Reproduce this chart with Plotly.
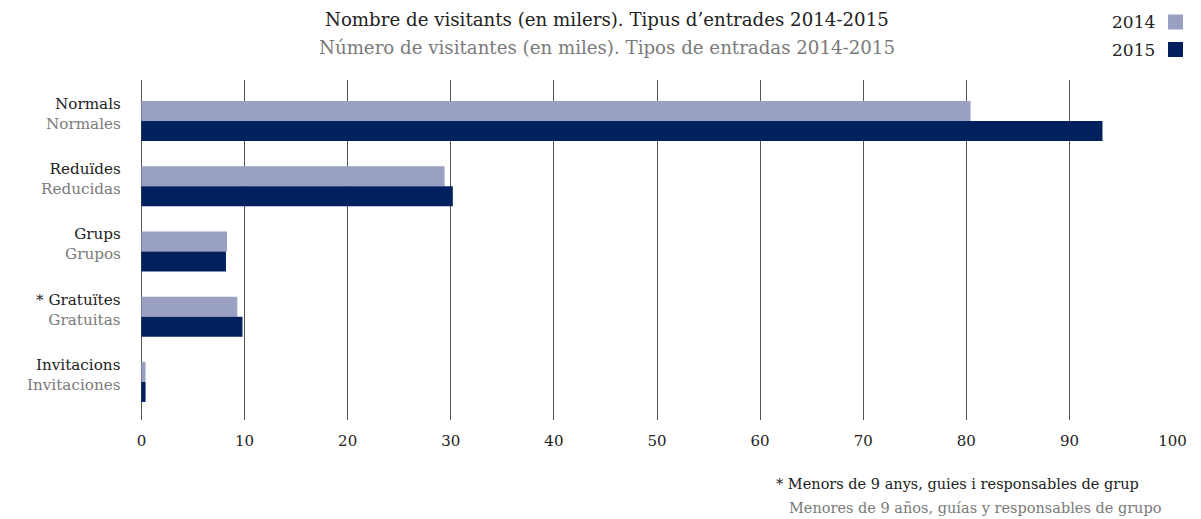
import plotly.graph_objects as go

categories_ca = ["Normals", "Reduïdes", "Grups", "* Gratuïtes", "Invitacions"]
categories_es = ["Normales", "Reducidas", "Grupos", "Gratuitas", "Invitaciones"]
values_2014 = [80.4, 29.4, 8.3, 9.3, 0.4]
values_2015 = [93.2, 30.2, 8.2, 9.8, 0.4]
x_ticks = [0, 10, 20, 30, 40, 50, 60, 70, 80, 90, 100]
series_names = ["2014", "2015"]

FONT = "DejaVu Serif"
DARK = "#222222"
GRAY = "#7a7a7a"
C2014 = "#9aa0c2"
C2015 = "#00215e"

# page body has an 8px margin; figure sized so the plot lands where the reference has it
W, H = 1193, 511
ML, MT, PW, PH = 133, 72, 1032, 340
MR, MB = W - ML - PW, H - MT - PH
OX, OY = 8, 8  # page offset


def px(xp):
    return (xp - OX - ML) / PW


def py(yp):
    return 1 - (yp - OY - MT) / PH


idx = list(range(len(categories_ca)))

fig = go.Figure()
fig.add_trace(go.Bar(y=idx, x=values_2014, orientation="h", name=series_names[0],
                     marker=dict(color=C2014, line=dict(width=0)), offsetgroup="a"))
fig.add_trace(go.Bar(y=idx, x=values_2015, orientation="h", name=series_names[1],
                     marker=dict(color=C2015, line=dict(width=0)), offsetgroup="b"))

fig.update_layout(
    width=W, height=H,
    margin=dict(l=ML, r=MR, t=MT, b=MB),
    paper_bgcolor="white", plot_bgcolor="white",
    font=dict(family=FONT, size=15, color=DARK),
    barmode="group", bargap=0.387, bargroupgap=0,
    showlegend=False,
    xaxis=dict(range=[-0.04, 100.04], tickvals=x_ticks, showgrid=True, gridcolor="#555555",
               gridwidth=1, zeroline=True, zerolinecolor="#555555", zerolinewidth=1,
               showline=False, ticks="", layer="below traces",
               ticklabelstandoff=10, tickfont=dict(size=15, color=DARK, family=FONT)),
    yaxis=dict(range=[4.583, -0.628], tickvals=idx, showticklabels=False, showgrid=False,
               zeroline=False, showline=False, ticks=""),
)

# Category labels (Catalan / Spanish)
for i, (a, b) in enumerate(zip(categories_ca, categories_es)):
    fig.add_annotation(xref="paper", yref="y", x=px(123), y=i, xanchor="right", yanchor="middle",
                       yshift=7, align="right", showarrow=False,
                       text=f"<span style='color:{DARK}'>{a}</span><br><span style='color:{GRAY}'>{b}</span>",
                       font=dict(size=15.2, family=FONT))

# Title (two lines)
fig.add_annotation(xref="paper", yref="paper", x=px(607), y=py(20), xanchor="center", yanchor="middle",
                   text="Nombre de visitants (en milers). Tipus d’entrades 2014-2015",
                   showarrow=False, font=dict(size=18.2, color=DARK, family=FONT))
fig.add_annotation(xref="paper", yref="paper", x=px(607), y=py(48), xanchor="center", yanchor="middle",
                   text="Número de visitantes (en miles). Tipos de entradas 2014-2015",
                   showarrow=False, font=dict(size=18.2, color=GRAY, family=FONT))

# Manual legend (text left of square)
for i, (name, col) in enumerate(zip(series_names, [C2014, C2015])):
    ycen = 22 + i * 27.5
    fig.add_annotation(xref="paper", yref="paper", x=px(1157), y=py(ycen),
                       xanchor="right", yanchor="middle", text=name, showarrow=False,
                       font=dict(size=17, color=DARK, family=FONT))
    fig.add_shape(type="rect", xref="paper", yref="paper",
                  x0=px(1168), x1=px(1183), y0=py(ycen + 7.5), y1=py(ycen - 7.5),
                  fillcolor=col, line=dict(width=0))

# Footnote
fig.add_annotation(xref="paper", yref="paper", x=px(1141), y=py(484),
                   xanchor="right", yanchor="middle", text="* Menors de 9 anys, guies i responsables de grup",
                   showarrow=False, font=dict(size=14.5, color=DARK, family=FONT))
fig.add_annotation(xref="paper", yref="paper", x=px(1163), y=py(508),
                   xanchor="right", yanchor="middle", text="Menores de 9 años, guías y responsables de grupo",
                   showarrow=False, font=dict(size=14.5, color=GRAY, family=FONT))

fig.write_html("out.html")
